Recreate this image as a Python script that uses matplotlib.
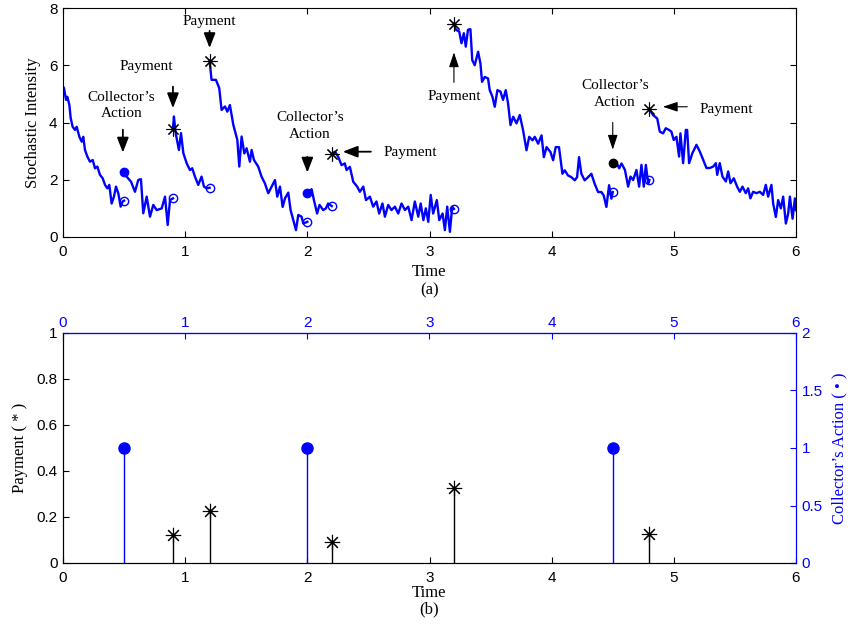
import numpy as np
import matplotlib
matplotlib.use('Agg')
import matplotlib.pyplot as plt

SERIF = ['Liberation Serif', 'DejaVu Serif']
SANS = ['Liberation Sans', 'DejaVu Sans']
plt.rcParams['font.family'] = SANS

# ============== DATA ==============
# Stochastic intensity path, split at every event (jump)
seg1_t = [0.0, 0.008, 0.025, 0.035, 0.052, 0.063, 0.079, 0.098, 0.112, 0.134, 0.153, 0.166, 0.18, 0.199, 0.221,
          0.243, 0.262, 0.281, 0.303, 0.325, 0.344, 0.363, 0.379, 0.398, 0.417, 0.434, 0.453, 0.472, 0.488, 0.5]
seg1_y = [5.26, 5.2, 4.79, 4.9, 4.62, 4.15, 3.85, 3.74, 3.85, 3.5, 3.33, 3.5, 3.04, 2.81, 2.63,
          2.69, 2.4, 2.46, 2.17, 2.05, 1.82, 1.7, 1.82, 1.17, 1.41, 1.76, 1.52, 1.06, 1.24, 1.27]
seg2_t = [0.5, 0.521, 0.557, 0.589, 0.616, 0.638, 0.657, 0.685, 0.712, 0.739, 0.767, 0.808, 0.835, 0.857, 0.876, 0.9]
seg2_y = [2.28, 2.11, 1.93, 1.58, 1.99, 2.02, 0.83, 1.41, 0.71, 1.12, 0.94, 1.0, 1.41, 0.42, 1.29, 1.35]
seg3_t = [0.9, 0.908, 0.922, 0.949, 0.966, 0.985, 1.012, 1.039, 1.058, 1.08, 1.107, 1.134, 1.154, 1.176, 1.2]
seg3_y = [3.77, 4.21, 3.63, 3.04, 3.63, 2.93, 2.58, 2.34, 2.4, 2.11, 1.82, 2.11, 1.76, 1.7, 1.72]
seg4_t = [1.2, 1.216, 1.252, 1.279, 1.298, 1.326, 1.345, 1.366, 1.394, 1.427, 1.443, 1.462, 1.484, 1.503, 1.53,
          1.544, 1.563, 1.598, 1.625, 1.653, 1.68, 1.708, 1.735, 1.754, 1.776, 1.798, 1.817, 1.844, 1.863, 1.885,
          1.907, 1.926, 1.953, 1.967, 2.0]
seg4_y = [6.16, 5.49, 5.49, 5.2, 4.44, 4.56, 4.38, 4.61, 3.92, 3.39, 2.46, 3.51, 2.92, 3.1, 2.63,
          3.04, 2.69, 2.46, 2.11, 1.87, 1.53, 1.76, 1.99, 1.41, 1.76, 1.05, 1.35, 1.55, 0.94, 0.59,
          0.24, 0.77, 0.71, 0.47, 0.53]
seg5_t = [2.0, 2.035, 2.054, 2.08, 2.10, 2.13, 2.152, 2.17, 2.2]
seg5_y = [1.53, 1.67, 1.29, 0.82, 1.12, 0.94, 1.0, 1.17, 1.08]
seg6_t = [2.2, 2.226, 2.253, 2.28, 2.307, 2.321, 2.348, 2.376, 2.408, 2.43, 2.458, 2.48, 2.512, 2.539, 2.566,
          2.588, 2.615, 2.635, 2.662, 2.689, 2.717, 2.744, 2.771, 2.799, 2.826, 2.853, 2.88, 2.908, 2.928, 2.95,
          2.97, 2.99, 3.01, 3.03, 3.06, 3.08, 3.107, 3.126, 3.145, 3.167, 3.186, 3.2]
seg6_y = [2.9, 2.98, 2.8, 2.51, 2.57, 2.34, 2.45, 1.93, 1.76, 1.58, 1.76, 1.29, 1.41, 1.06, 1.24,
          0.82, 1.17, 0.71, 1.12, 0.94, 1.06, 0.82, 1.17, 0.94, 1.06, 0.59, 1.24, 0.71, 1.17, 0.59,
          1.0, 0.53, 1.47, 0.82, 1.29, 0.59, 0.82, 0.24, 1.06, 0.18, 1.06, 0.98]
seg7_t = [3.2, 3.216, 3.243, 3.262, 3.281, 3.297, 3.315, 3.335, 3.35, 3.37, 3.398, 3.417, 3.43, 3.452, 3.479,
          3.493, 3.515, 3.534, 3.556, 3.581, 3.602, 3.624, 3.643, 3.663, 3.685, 3.712, 3.739, 3.766, 3.794, 3.816,
          3.843, 3.862, 3.889, 3.917, 3.936, 3.958, 3.99, 4.012, 4.033, 4.06, 4.088, 4.107, 4.134, 4.161, 4.189,
          4.208, 4.224, 4.243, 4.27, 4.298, 4.325, 4.352, 4.38, 4.407, 4.426, 4.448, 4.47, 4.489, 4.5]
seg7_y = [7.45, 7.24, 7.18, 6.77, 7.12, 6.65, 7.24, 7.26, 6.18, 6.0, 6.47, 6.06, 5.42, 5.59, 5.54,
          5.13, 4.9, 4.55, 5.13, 5.08, 4.79, 5.13, 4.67, 3.91, 4.2, 3.97, 4.26, 3.73, 3.03, 3.5,
          3.38, 3.5, 3.26, 3.55, 2.79, 3.14, 2.97, 2.68, 3.14, 3.14, 2.21, 2.33, 2.15, 2.09, 1.98,
          2.09, 2.79, 2.21, 1.98, 2.09, 2.21, 1.86, 1.57, 1.57, 1.45, 1.05, 1.81, 1.34, 1.57]
seg8_t = [4.5, 4.526, 4.553, 4.572, 4.6, 4.626, 4.645, 4.667, 4.694, 4.716, 4.735, 4.754, 4.771, 4.79, 4.8]
seg8_y = [2.6, 2.63, 2.4, 2.57, 2.34, 1.76, 2.11, 1.99, 2.34, 1.76, 2.52, 1.76, 2.52, 1.87, 1.99]
seg9_t = [4.8, 4.83, 4.864, 4.885, 4.912, 4.934, 4.961, 4.98, 4.999, 5.021, 5.043, 5.054, 5.076, 5.098, 5.109,
          5.125, 5.152, 5.185, 5.212, 5.24, 5.267, 5.294, 5.322, 5.344, 5.355, 5.376, 5.398, 5.426, 5.445, 5.464,
          5.491, 5.518, 5.54, 5.562, 5.589, 5.608, 5.627, 5.649, 5.676, 5.704, 5.731, 5.753, 5.772, 5.799, 5.813,
          5.835, 5.854, 5.876, 5.895, 5.917, 5.936, 5.95, 5.972, 5.991, 6.0]
seg9_y = [4.46, 4.26, 4.14, 3.68, 3.62, 3.8, 3.74, 3.68, 3.39, 3.5, 2.81, 3.62, 2.58, 3.74, 3.74,
          2.58, 2.93, 3.22, 2.99, 2.7, 2.41, 2.41, 2.46, 2.58, 2.17, 2.58, 2.11, 1.94, 2.29, 1.88,
          2.05, 1.76, 1.58, 1.76, 1.53, 1.7, 1.35, 1.58, 1.53, 1.58, 1.47, 1.82, 1.41, 1.82, 1.17,
          0.7, 1.29, 1.0, 1.41, 0.47, 0.82, 1.41, 0.64, 1.35, 0.94]

# event that starts each segment: None / 'action' / 'payment'
seg_start_kind = [None, 'action', 'payment', 'payment', 'action', 'payment', 'payment', 'action', 'payment']
action_dot_colors = ['blue', 'blue', 'black']

# bottom panel: stems
payment_t = [0.9, 1.2, 2.2, 3.2, 4.8]
payment_amt = [0.122, 0.225, 0.09, 0.325, 0.125]
action_t = [0.5, 2.0, 4.5]
action_val = [1, 1, 1]
# ===========================================================

segments = [(seg1_t, seg1_y), (seg2_t, seg2_y), (seg3_t, seg3_y), (seg4_t, seg4_y), (seg5_t, seg5_y),
            (seg6_t, seg6_y), (seg7_t, seg7_y), (seg8_t, seg8_y), (seg9_t, seg9_y)]

ASTERISK = (8, 2, 0)
BLUE = '#0000ff'

fig = plt.figure(figsize=(8.49, 6.28), dpi=100)
ax = fig.add_axes([63 / 849, 1 - 237 / 628, 733 / 849, 229 / 628])
axb = fig.add_axes([63 / 849, 1 - 563 / 628, 733 / 849, 230 / 628])

# ---------- (a) stochastic intensity ----------
dot_i = 0
for k, (t, y) in enumerate(segments):
    ax.plot(t, y, color=BLUE, lw=1.7, zorder=2)
    if k < len(segments) - 1:
        ax.plot(t[-1], y[-1], 'o', ms=6, mfc='none', mec=BLUE, mew=1.0, zorder=3)
    kind = seg_start_kind[k]
    if kind == 'action':
        ax.plot(t[0], y[0], 'o', ms=6, color=action_dot_colors[dot_i], zorder=4)
        dot_i += 1
    elif kind == 'payment':
        ax.plot(t[0], y[0], marker=ASTERISK, ms=10, color='k', mew=0.8, ls='', zorder=4)

ax.set_xlim(0, 6)
ax.set_ylim(0, 8)
ax.set_xticks(range(0, 7))
ax.set_yticks([0, 2, 4, 6, 8])
ax.tick_params(direction='in', length=4, labelsize=11, top=True, right=True)
ax.tick_params(axis='x', pad=6)
ax.tick_params(axis='y', pad=4)
ax.set_xlabel('Time', family=SERIF, fontsize=12, labelpad=3)
ax.set_ylabel('Stochastic Intensity', family=SERIF, fontsize=12, labelpad=6)
fig.text(63 / 849 + 733 / 849 / 2, 1 - 290 / 628, '(a)', family=SERIF, fontsize=12, ha='center', va='center')

big = dict(arrowstyle='-|>,head_length=0.9,head_width=0.35', color='k', lw=1.3, shrinkA=0, shrinkB=0)
thin = dict(arrowstyle='-|>,head_length=0.9,head_width=0.3', color='k', lw=0.8, shrinkA=0, shrinkB=0)
txt = dict(family=SERIF, fontsize=11, ha='center', va='center')

ax.text(0.48, 4.6, "Collector\u2019s\nAction", linespacing=1.35, **txt)
ax.annotate('', xy=(0.49, 2.95), xytext=(0.49, 3.75), arrowprops=big)
ax.text(0.9 - 0.22, 5.94, 'Payment', **txt)
ax.annotate('', xy=(0.9, 4.5), xytext=(0.9, 5.25), arrowprops=big)
ax.text(1.2, 7.52, 'Payment', **txt)
ax.annotate('', xy=(1.2, 6.6), xytext=(1.2, 7.2), arrowprops=big)
ax.text(2.02, 3.88, "Collector\u2019s\nAction", linespacing=1.35, **txt)
ax.annotate('', xy=(2.0, 2.25), xytext=(2.0, 2.8), arrowprops=big)
ax.text(2.84, 2.96, 'Payment', **txt)
ax.annotate('', xy=(2.29, 2.98), xytext=(2.52, 2.98), arrowprops=big)
ax.text(3.2, 4.9, 'Payment', **txt)
ax.annotate('', xy=(3.2, 6.45), xytext=(3.2, 5.4), arrowprops=thin)
ax.text(4.52, 5.0, "Collector\u2019s\nAction", linespacing=1.35, **txt)
ax.annotate('', xy=(4.5, 3.05), xytext=(4.5, 4.0), arrowprops=thin)
ax.text(5.43, 4.47, 'Payment', **txt)
ax.annotate('', xy=(4.91, 4.55), xytext=(5.11, 4.55), arrowprops=thin)

# ---------- (b) payments and collector's actions ----------
axr = axb.twinx()
axb.vlines(payment_t, 0, payment_amt, color='k', lw=1.0)
axb.plot(payment_t, payment_amt, marker=ASTERISK, ms=11, color='k', mew=0.8, ls='')
axr.vlines(action_t, 0, action_val, color=BLUE, lw=1.0)
axr.plot(action_t, action_val, 'o', ms=8, color=BLUE)

axb.set_xlim(0, 6)
axb.set_ylim(0, 1)
axr.set_ylim(0, 2)
axb.set_xticks(range(0, 7))
axb.set_yticks([0, 0.2, 0.4, 0.6, 0.8, 1])
axb.set_yticklabels(['0', '0.2', '0.4', '0.6', '0.8', '1'])
axr.set_yticks([0, 0.5, 1, 1.5, 2])
axr.set_yticklabels(['0', '0.5', '1', '1.5', '2'])
axb.tick_params(direction='in', length=4, labelsize=11, top=False, right=False)
axb.tick_params(axis='x', pad=6)
axb.tick_params(axis='y', pad=4)
axr.tick_params(direction='in', length=4, labelsize=11, colors=BLUE, pad=4)

top = axb.secondary_xaxis('top')
top.set_xticks(range(0, 7))
top.tick_params(direction='in', length=4, labelsize=11, colors=BLUE, pad=2)
top.spines['top'].set_color(BLUE)
for a in (axb, axr):
    a.spines['top'].set_color(BLUE)
    a.spines['right'].set_color(BLUE)
    a.spines['left'].set_color('k')

axb.set_xlabel('Time', family=SERIF, fontsize=12, labelpad=0)
axb.set_ylabel('Payment ( * )', family=SERIF, fontsize=12, labelpad=6)
axr.set_ylabel('Collector\u2019s Action ( \u2022 )', family=SERIF, fontsize=12, color=BLUE, labelpad=6)
fig.text(63 / 849 + 733 / 849 / 2, 1 - 609 / 628, '(b)', family=SERIF, fontsize=12, ha='center', va='center')

fig.savefig('out.png', dpi=100)
